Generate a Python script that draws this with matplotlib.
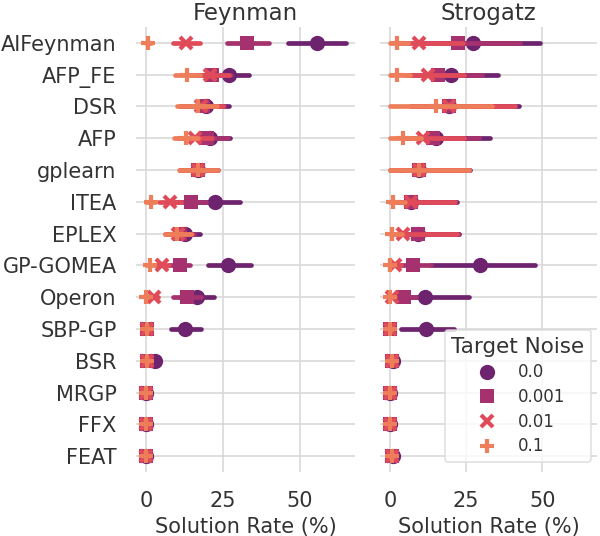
"""
Solution rate by method and target noise, Feynman vs Strogatz problems
"""

import matplotlib.pyplot as plt
from matplotlib.lines import Line2D

methods = ["AIFeynman", "AFP_FE", "DSR", "AFP", "gplearn", "ITEA", "EPLEX",
           "GP-GOMEA", "Operon", "SBP-GP", "BSR", "MRGP", "FFX", "FEAT"]
noise_levels = ["0.0", "0.001", "0.01", "0.1"]

# Feynman: mean solution rate (%) and confidence interval per noise level
feyn_mean = {
    "0.0":   [55.7, 27.0, 19.5, 20.8, 16.8, 22.4, 12.7, 26.7, 16.5, 12.7, 2.9, 0, 0, 0],
    "0.001": [32.9, 21.5, 18.5, 19.7, 16.8, 14.5, 11.0, 11.0, 13.2, 0.4, 0.2, 0, 0, 0],
    "0.01":  [13.0, 20.8, 18.0, 16.0, 16.8, 7.8, 10.5, 5.1, 2.4, 0.3, 0.2, 0, 0, 0],
    "0.1":   [0.7, 13.4, 17.0, 13.0, 16.8, 1.5, 10.0, 1.3, 0.0, 0.3, 0.2, 0, 0, 0],
}
feyn_lo = {
    "0.0":   [46.2, 21.0, 12.0, 14.0, 11.0, 15.0, 8.0, 20.2, 11.0, 8.1, 1.0, 0, 0, 0],
    "0.001": [26.4, 15.5, 11.5, 13.0, 11.0, 9.5, 6.5, 7.5, 8.7, 0, 0, 0, 0, 0],
    "0.01":  [8.7, 14.5, 11.0, 10.5, 11.0, 4.3, 6.2, 3.0, 0.8, 0, 0, 0, 0, 0],
    "0.1":   [0, 9.4, 10.2, 9.0, 10.8, 0, 6.2, 0, 0, 0, 0, 0, 0, 0],
}
feyn_hi = {
    "0.0":   [65.2, 33.5, 27.0, 27.3, 23.3, 30.5, 17.5, 34.0, 22.0, 18.0, 4.5, 0, 0, 0],
    "0.001": [40.0, 27.5, 25.5, 26.5, 23.0, 19.5, 15.5, 14.3, 18.0, 1.0, 0.6, 0, 0, 0],
    "0.01":  [17.5, 27.0, 25.0, 21.5, 23.0, 11.5, 15.0, 7.5, 4.0, 0.8, 0.5, 0, 0, 0],
    "0.1":   [1.5, 17.5, 23.0, 17.0, 23.3, 3.0, 14.5, 2.5, 0.5, 0.6, 0.5, 0, 0, 0],
}

# Strogatz
stro_mean = {
    "0.0":   [27.3, 20.0, 19.3, 15.2, 9.4, 7.0, 9.2, 29.5, 11.4, 11.7, 1.0, 0, 0, 1.0],
    "0.001": [22.2, 15.7, 19.3, 14.0, 9.4, 7.0, 9.2, 7.4, 4.7, 0, 0.5, 0, 0, 0.5],
    "0.01":  [9.4, 12.4, 19.3, 10.8, 9.4, 7.0, 4.3, 1.6, 0.5, 0, 0.5, 0, 0, 0.5],
    "0.1":   [2.2, 2.2, 15.2, 4.3, 9.4, 1.1, 0.5, 0, 0, 0, 0.5, 0, 0, 0.5],
}
stro_lo = {
    "0.0":   [17.0, 13.0, 11.0, 9.0, 3.0, 2.0, 3.5, 13.5, 3.0, 3.5, 0, 0, 0, 0],
    "0.001": [8.0, 7.0, 7.0, 6.0, 3.0, 2.0, 3.0, 2.5, 1.5, 0, 0, 0, 0, 0],
    "0.01":  [3.0, 5.0, 7.0, 4.0, 0, 1.0, 1.0, 0.3, 0, 0, 0, 0, 0, 0],
    "0.1":   [0, 0, 0, 0, 0, 0, 0, 0, 0, 0, 0, 0, 0, 0],
}
stro_hi = {
    "0.0":   [49.2, 35.5, 42.5, 32.7, 26.2, 21.9, 22.7, 47.6, 26.0, 21.0, 2.0, 0, 0, 2.0],
    "0.001": [42.8, 30.2, 41.0, 29.2, 26.0, 21.5, 22.5, 13.5, 8.5, 0.5, 1.0, 0, 0, 1.0],
    "0.01":  [24.0, 24.4, 41.0, 24.4, 26.0, 21.5, 22.0, 3.5, 1.5, 0.5, 1.0, 0, 0, 1.0],
    "0.1":   [5.8, 6.5, 33.5, 10.3, 26.0, 4.9, 4.0, 1.0, 0.5, 0.5, 1.0, 0, 0, 1.0],
}

colors = ["#6e236e", "#a5326e", "#e04b5a", "#ee7d5a"]
markers = ["o", "s", "x", "+"]
msizes = [11, 10, 9, 10]

plt.rcParams["font.family"] = "DejaVu Sans"
plt.rcParams["text.color"] = "#333333"

fig = plt.figure(figsize=(6, 5.36), dpi=100)
bottom = 1 - 472 / 536
height = (472 - 27) / 536
ax1 = fig.add_axes([136 / 600, bottom, (355 - 136) / 600, height])
ax2 = fig.add_axes([380 / 600, bottom, (597 - 380) / 600, height])

panels = [(ax1, "Feynman", feyn_mean, feyn_lo, feyn_hi),
          (ax2, "Strogatz", stro_mean, stro_lo, stro_hi)]

ypos = list(range(len(methods)))

for ax, title, mean, lo, hi in panels:
    # each noise level: interval lines, then its markers, stacked in order
    for k, nl in enumerate(noise_levels):
        for i in ypos:
            ax.plot([lo[nl][i], hi[nl][i]], [i, i], color=colors[k], lw=3.4,
                    solid_capstyle="round", zorder=2 + 2 * k)
        ax.plot(mean[nl], ypos, ls="none", marker=markers[k], ms=msizes[k],
                color=colors[k], mew=3 if markers[k] in "x+" else 0,
                zorder=3 + 2 * k)
    ax.set_xlim(-3.3, 68)
    ax.set_ylim(len(methods) - 0.5, -0.5)
    ax.set_xticks([0, 25, 50])
    ax.set_yticks(ypos)
    ax.grid(True, color="#d9d9d9", lw=1.2, zorder=0)
    ax.set_axisbelow(True)
    for s in ax.spines.values():
        s.set_visible(False)
    ax.tick_params(length=0, labelsize=15, colors="#333333", pad=14)
    ax.set_title(title, fontsize=16.5, pad=5, color="#333333")
    ax.set_xlabel("Solution Rate (%)", fontsize=15, color="#333333", labelpad=4)

ax1.set_yticklabels(methods)
ax2.set_yticklabels([])

handles = [Line2D([], [], ls="none", marker=markers[k], ms=msizes[k],
                  color=colors[k], mew=3 if markers[k] in "x+" else 0)
           for k in range(4)]
leg = ax2.legend(handles, noise_levels, title="Target Noise", fontsize=12,
                 title_fontsize=15.5, loc="lower right",
                 bbox_to_anchor=(591 / 600, 1 - 462 / 536),
                 bbox_transform=fig.transFigure, borderaxespad=0,
                 labelspacing=0.4, edgecolor="#d9d9d9")
leg.get_frame().set_linewidth(1.2)

plt.savefig("out.png", dpi=100)
